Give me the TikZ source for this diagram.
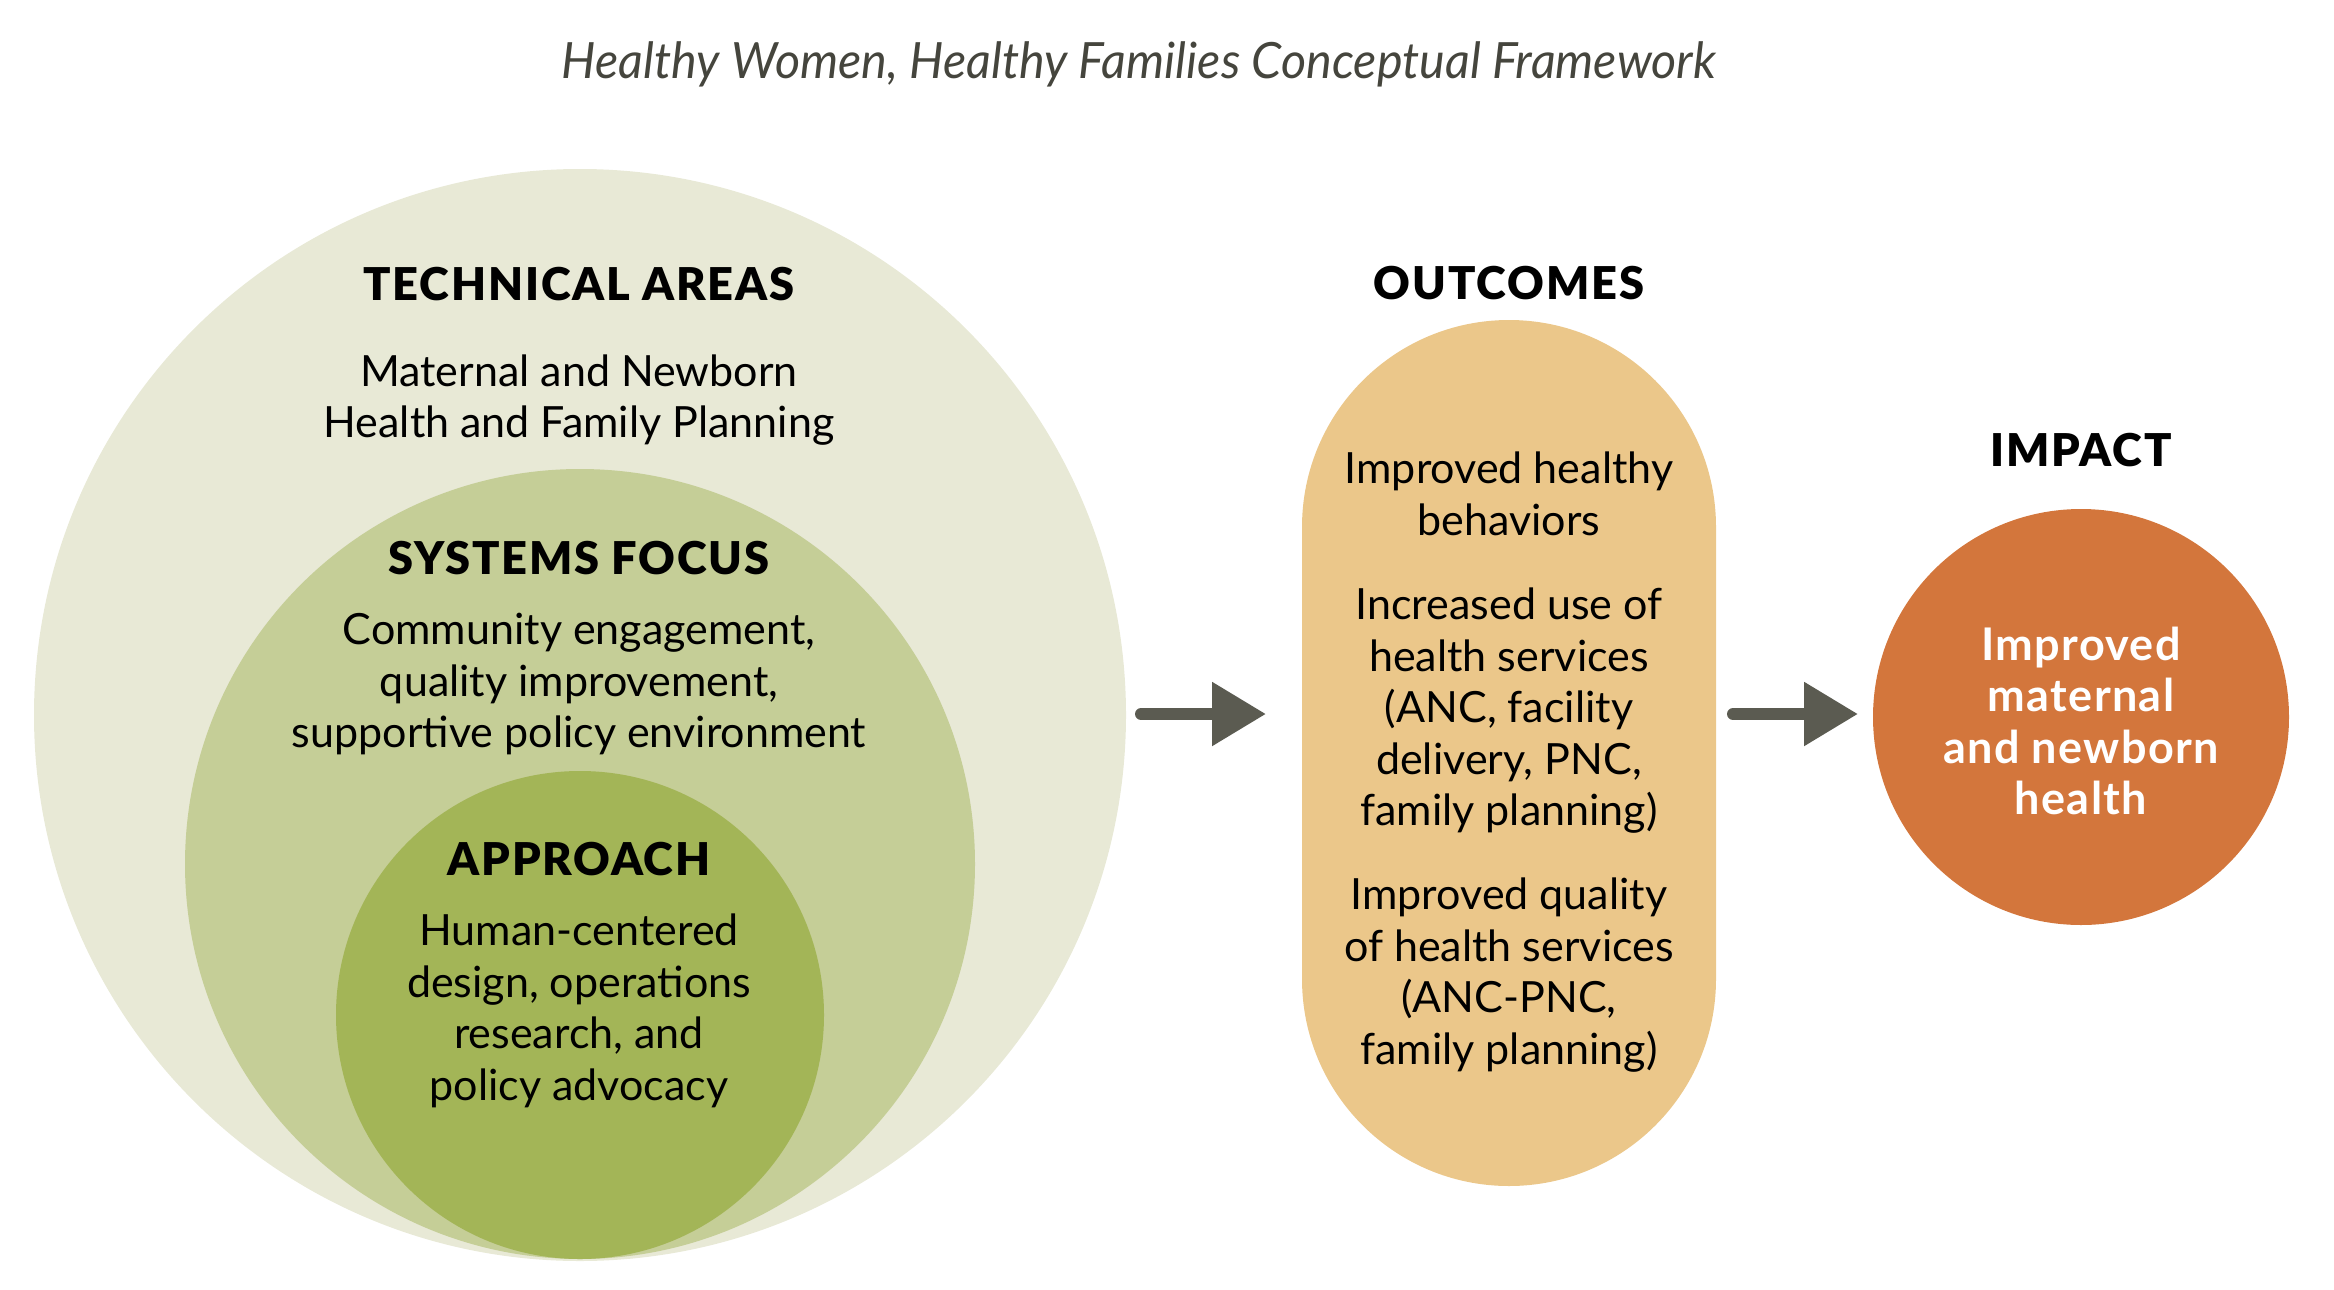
\documentclass[tikz,border=0pt]{standalone}
\usepackage{fontspec}
\usepackage{graphicx}
\setmainfont{Lato}
\newfontfamily\headfont[LetterSpace=4]{Lato Black}
\newfontfamily\impfont[LetterSpace=3]{Lato Bold}
\usetikzlibrary{arrows.meta}
\definecolor{cbig}{HTML}{E8E9D6}
\definecolor{cmid}{HTML}{C5CE97}
\definecolor{cin}{HTML}{A3B557}
\definecolor{cpill}{HTML}{EBC78A}
\definecolor{cimp}{HTML}{D3763C}
\definecolor{carr}{HTML}{5B5B51}
\definecolor{ctitle}{HTML}{45453D}
\tikzset{
  disc/.style={circle,inner sep=0pt,draw=none},
  head/.style={font=\headfont\fontsize{22.6}{26}\selectfont,text=black,inner sep=0pt},
  body/.style={font=\fontsize{21.5}{25.75}\selectfont,text=black,align=center,inner sep=0pt},
  flowarrow/.style={draw=carr,line width=6pt,line cap=round,-{Triangle[length=27pt,width=30.5pt]}},
}
\begin{document}
\begin{tikzpicture}[x=0.5pt,y=-0.5pt]
\useasboundingbox (0,0) rectangle (2334,1290);
% circles
\node[disc,fill=cbig,minimum size=546pt] (big) at (580,715) {};
\node[disc,fill=cmid,minimum size=395pt] (mid) at (580,864) {};
\node[disc,fill=cin,minimum size=244pt] (inner) at (580,1015) {};
\node[fill=cpill,rounded corners=103.5pt,minimum width=207pt,minimum height=433pt,inner sep=0pt] (pill) at (1509,753) {};
\node[disc,fill=cimp,minimum size=208pt] (impact) at (2081,717) {};
% title
\node[inner sep=0pt,text=ctitle,font=\itshape\fontsize{25}{30}\selectfont] (title) at (1139,64) {\resizebox{577pt}{\height}{Healthy Women, Healthy Families Conceptual Framework}};
% texts
\node[head] (tah) at (579,284) {TECHNICAL AREAS};
\node[body] (tab) at (579,400) {Maternal and Newborn\\Health and Family Planning};
\node[head] (sfh) at (579,558) {SYSTEMS FOCUS};
\node[body] (sfb) at (579,684) {Community engagement,\\quality improvement,\\supportive policy environment};
\node[head] (aph) at (579,859) {APPROACH};
\node[body] (apb) at (579,1011) {Human-centered\\design, operations\\research, and\\policy advocacy};
\node[head] (outh) at (1509,283) {OUTCOMES};
\node[body] (o1) at (1509,494) {Improved healthy\\behaviors};
\node[body] (o2) at (1509,711) {Increased use of\\health services\\(ANC, facility\\delivery, PNC,\\family planning)};
\node[body] (o3) at (1509,975) {Improved quality\\of health services\\(ANC-PNC,\\family planning)};
\node[head] (imph) at (2081,450) {IMPACT};
\node[body,text=white,font=\impfont\fontsize{22.5}{25.75}\selectfont] (impb) at (2081,721) {Improved\\maternal\\and newborn\\health};
% arrows
\coordinate (a1s) at (1141,714);
\coordinate (a1e) at (1266,714);
\coordinate (a2s) at (1733,714);
\coordinate (a2e) at (1858,714);
\draw[flowarrow] (a1s) -- (a1e);
\draw[flowarrow] (a2s) -- (a2e);
\end{tikzpicture}
\end{document}
